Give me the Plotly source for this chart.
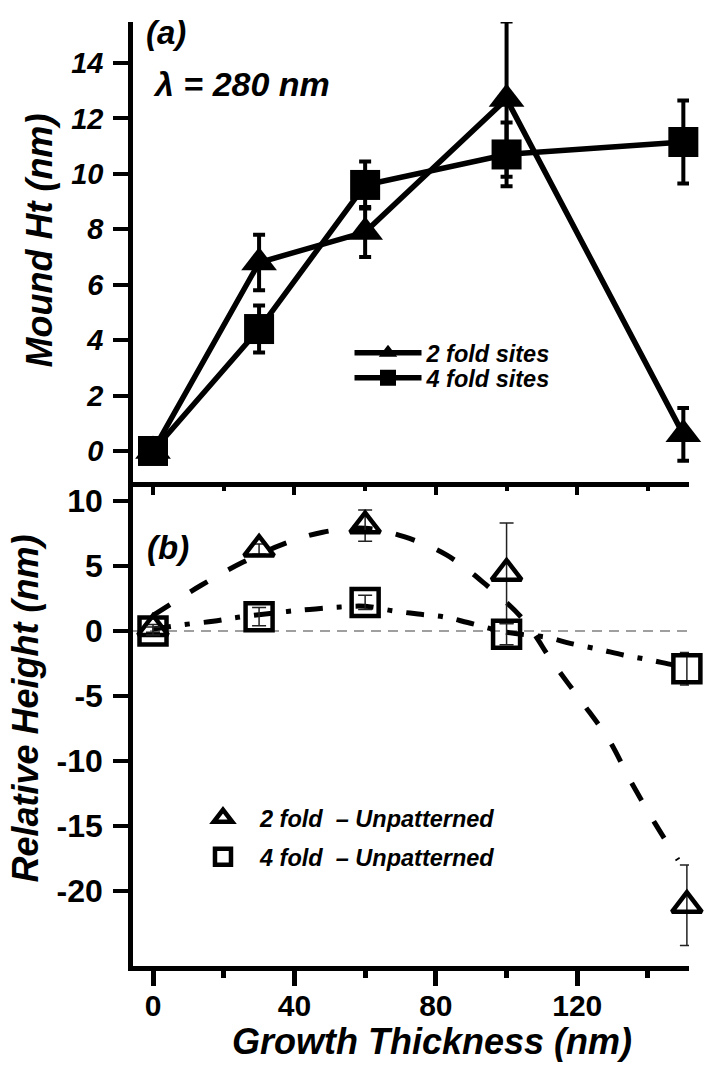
import plotly.graph_objects as go

FONT = "Liberation Sans, Arial, Helvetica, sans-serif"

# Growth thickness (nm)
thickness = [0, 30, 60, 100, 150]
thickness_rel = [0, 30, 60, 100, 151]

# (a) mound height on patterned sites (nm) with error bars
mound_2fold = [0.0, 6.8, 7.9, 12.7, 0.6]
mound_2fold_err = [0.4, 1.0, 0.9, 2.8, 0.95]
mound_4fold = [0.0, 4.4, 9.6, 10.7, 11.15]
mound_4fold_err = [0.3, 0.85, 0.85, 1.15, 1.5]

# (b) height relative to the unpatterned surface (nm) with error bars
rel_2fold = [0.2, 6.3, 8.1, 4.45, -21.1]
rel_2fold_err = [0.3, 0.4, 1.2, 3.85, 3.1]
rel_4fold = [0.0, 1.1, 2.2, -0.25, -2.9]
rel_4fold_err = [0.3, 0.7, 0.55, 0.8, 1.25]

# smooth trend curves drawn through panel (b)
trend_2fold_x = [0, 13.5, 25.5, 37, 48, 60, 71, 83, 94, 105, 113, 121, 129, 135, 142, 148.5]
trend_2fold_y = [1.2, 3.5, 5.3, 6.7, 7.6, 7.9, 7.25, 5.85, 3.6, 0.8, -2.4, -5.35, -8.4, -11.5, -14.8, -17.6]
trend_4fold_x = [0, 9, 17, 24, 38, 46, 53, 60, 68, 75, 82, 89, 100, 111.5, 118, 126, 133, 140, 147, 151]
trend_4fold_y = [0.15, 0.5, 0.75, 1.05, 1.5, 1.7, 1.85, 1.9, 1.55, 1.3, 1.1, 0.65, -0.1, -0.5, -0.95,
                 -1.4, -1.85, -2.2, -2.6, -2.8]

# tick labels
x_ticks = [0, 40, 80, 120]
x_ticktext = ["0", "40", "80", "120"]
rel_ticks = [-20, -15, -10, -5, 0, 5, 10]
rel_ticktext = ["-20", "-15", "-10", "-5", "0", "5", "10"]

X_RANGE = [-5.66, 151.6]
SPLIT = 0.5127


def bi(size):
    return dict(family=FONT, size=size, color="black", weight="bold", style="italic")


fig = go.Figure()

# ---- panel (a): mound height ----
fig.add_trace(go.Scatter(
    x=thickness, y=mound_2fold, name="2 fold sites", mode="lines+markers",
    line=dict(color="black", width=5.5),
    marker=dict(symbol="triangle-up", size=31, color="black"),
    error_y=dict(type="data", array=mound_2fold_err, color="black", thickness=4, width=6),
    xaxis="x", yaxis="y", legend="legend", cliponaxis=False))
fig.add_trace(go.Scatter(
    x=thickness, y=mound_4fold, name="4 fold sites", mode="lines+markers",
    line=dict(color="black", width=5.5),
    marker=dict(symbol="square", size=30, color="black"),
    error_y=dict(type="data", array=mound_4fold_err, color="black", thickness=4, width=6),
    xaxis="x", yaxis="y", legend="legend2", cliponaxis=False))

# ---- panel (b): relative height ----
fig.add_trace(go.Scatter(
    x=trend_2fold_x, y=trend_2fold_y, mode="lines", showlegend=False,
    line=dict(color="black", width=5, dash="20px,24px", shape="spline"),
    xaxis="x2", yaxis="y2", hoverinfo="skip"))
fig.add_trace(go.Scatter(
    x=trend_4fold_x, y=trend_4fold_y, mode="lines", showlegend=False,
    line=dict(color="black", width=5, dash="18px,14px,5px,14px", shape="spline"),
    xaxis="x2", yaxis="y2", hoverinfo="skip"))
fig.add_trace(go.Scatter(
    x=thickness_rel, y=rel_2fold, name="2 fold\u00a0 \u2013 Unpatterned", mode="markers",
    marker=dict(symbol="triangle-up-open", size=26, color="black", line=dict(width=4.5)),
    error_y=dict(type="data", array=rel_2fold_err, color="#222222", thickness=1.5, width=7),
    xaxis="x2", yaxis="y2", legend="legend3", cliponaxis=False))
fig.add_trace(go.Scatter(
    x=thickness_rel, y=rel_4fold, name="4 fold\u00a0 \u2013 Unpatterned", mode="markers",
    marker=dict(symbol="square-open", size=27, color="black", line=dict(width=4.5)),
    error_y=dict(type="data", array=rel_4fold_err, color="#222222", thickness=1.5, width=7),
    xaxis="x2", yaxis="y2", legend="legend4", cliponaxis=False))

# dashed zero reference in panel (b)
fig.add_shape(type="line", xref="x2 domain", yref="y2", x0=0, x1=1, y0=0, y1=0,
              line=dict(color="#808080", width=1.5, dash="10px,7px"), layer="below")

axis_common = dict(showgrid=False, zeroline=False, showline=True, linecolor="black", linewidth=4.5,
                   tickcolor="black")

legend_common = dict(bgcolor="rgba(0,0,0,0)", borderwidth=0, xanchor="left", yanchor="middle",
                     itemsizing="trace", font=bi(23.5))

fig.update_layout(
    width=707, height=1066,
    margin=dict(l=133, r=18, t=22, b=100),
    paper_bgcolor="white", plot_bgcolor="white",
    showlegend=True,
    xaxis=dict(domain=[0, 1], anchor="y", range=X_RANGE, ticks="outside", ticklen=8, tickwidth=4,
               tick0=0, dtick=40, showticklabels=False,
               minor=dict(dtick=20, ticks="outside", ticklen=4, tickwidth=4, tickcolor="black"),
               **axis_common),
    xaxis3=dict(overlaying="x", anchor="y", side="bottom", range=X_RANGE, ticks="inside", ticklen=8,
                tickwidth=4, tick0=0, dtick=40, showticklabels=False, showgrid=False, zeroline=False,
                showline=False, tickcolor="black",
                minor=dict(dtick=20, ticks="inside", ticklen=4, tickwidth=4, tickcolor="black")),
    yaxis=dict(domain=[SPLIT, 1], anchor="x", range=[-1.12, 15.48], ticks="outside", ticklen=15,
               tickwidth=4, tick0=0, dtick=2, tickfont=bi(29), ticklabelstandoff=4, **axis_common),
    xaxis2=dict(domain=[0, 1], anchor="y2", range=X_RANGE, ticks="outside", ticklen=15, tickwidth=4.5,
                tickvals=x_ticks, ticktext=x_ticktext, ticklabelstandoff=-6,
                tickfont=dict(family=FONT, size=30, color="black", weight="bold"),
                minor=dict(dtick=20, ticks="outside", ticklen=7, tickwidth=4.5, tickcolor="black"),
                **axis_common),
    yaxis2=dict(domain=[0, SPLIT], anchor="x2", range=[-25.77, 11.46], ticks="outside", ticklen=15,
                tickwidth=4, tickvals=rel_ticks, ticktext=rel_ticktext,
                tickfont=dict(family=FONT, size=32, color="black", weight="bold"),
                ticklabelstandoff=4, **axis_common),
    legend=dict(x=0.3894, y=0.6494, itemwidth=67, **legend_common),
    legend2=dict(x=0.3894, y=0.6229, itemwidth=67, **legend_common),
    legend3=dict(x=0.0953, y=0.1568, itemwidth=64, **legend_common),
    legend4=dict(x=0.0953, y=0.1155, itemwidth=64, **legend_common),
)

annotations = [
    dict(text="(a)", x=0.0594, y=0.9894, font=bi(33)),
    dict(text="\u03bb = 280 nm", x=0.0324, y=0.934, xanchor="left", font=bi(34)),
    dict(text="(b)", x=0.063, y=0.4428, font=bi(33)),
    dict(text="Mound Ht (nm)", x=-0.1682, y=0.769, textangle=-90, font=bi(36)),
    dict(text="Relative Height (nm)", x=-0.1933, y=0.2722, textangle=-90, font=bi(36)),
    dict(text="Growth Thickness (nm)", x=0.5378, y=-0.0805, font=bi(36)),
]
for a in annotations:
    a.setdefault("xanchor", "center")
    a.setdefault("yanchor", "middle")
    fig.add_annotation(xref="paper", yref="paper", showarrow=False, **a)

fig.write_html("out.html")
